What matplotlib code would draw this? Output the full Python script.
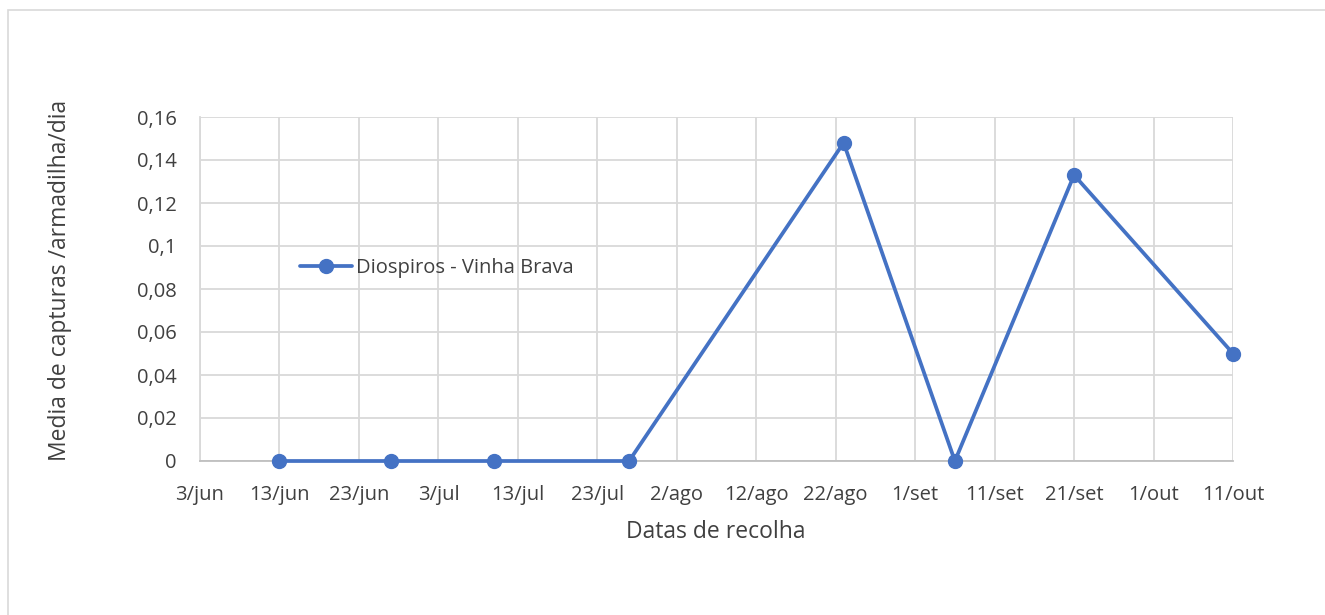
import matplotlib
matplotlib.use("Agg")
import matplotlib.pyplot as plt
from matplotlib.patches import Rectangle
import datetime as dt

plt.rcParams['font.family'] = ['Open Sans', 'DejaVu Sans']

# Data
dates = ["2020-06-13", "2020-06-27", "2020-07-10", "2020-07-27",
         "2020-08-23", "2020-09-06", "2020-09-21", "2020-10-11"]
values = [0, 0, 0, 0, 0.148, 0, 0.133, 0.05]
series_name = "Diospiros - Vinha Brava"

tick_dates = ["2020-06-03", "2020-06-13", "2020-06-23", "2020-07-03", "2020-07-13",
              "2020-07-23", "2020-08-02", "2020-08-12", "2020-08-22", "2020-09-01",
              "2020-09-11", "2020-09-21", "2020-10-01", "2020-10-11"]
tick_labels = ["3/jun", "13/jun", "23/jun", "3/jul", "13/jul", "23/jul", "2/ago",
               "12/ago", "22/ago", "1/set", "11/set", "21/set", "1/out", "11/out"]
y_ticks = [0, 0.02, 0.04, 0.06, 0.08, 0.10, 0.12, 0.14, 0.16]
y_labels = ["0", "0,02", "0,04", "0,06", "0,08", "0,1", "0,12", "0,14", "0,16"]

x = [dt.datetime.strptime(d, "%Y-%m-%d") for d in dates]
xt = [dt.datetime.strptime(d, "%Y-%m-%d") for d in tick_dates]

W, H = 1325, 615
fig = plt.figure(figsize=(W / 100, H / 100), dpi=100)
fig.patch.set_facecolor("white")

# outer chart border
fig.patches.append(Rectangle((8 / W, -0.5), 2, 1.5 - 10 / H, transform=fig.transFigure,
                             fill=False, edgecolor="#D9D9D9", linewidth=1.2))

ax = fig.add_axes([200 / W, 1 - 461 / H, (1233 - 200) / W, (461 - 117) / H])
ax.plot(x, values, color="#4472C4", linewidth=2.7, marker="o", markersize=10,
        label=series_name, solid_capstyle="round", clip_on=False, zorder=3)

ax.set_xlim(xt[0], xt[-1])
ax.set_ylim(0, 0.16)
ax.set_xticks(xt)
ax.set_xticklabels(tick_labels)
ax.set_yticks(y_ticks)
ax.set_yticklabels(y_labels)
ax.tick_params(axis="both", length=0, labelsize=14.5, colors="#404040", labelcolor="#404040")
ax.tick_params(axis="x", pad=17)
ax.tick_params(axis="y", pad=17)

ax.grid(True, color="#D9D9D9", linewidth=1.3)
ax.set_axisbelow(True)
for s in ["top", "right"]:
    ax.spines[s].set_visible(False)
ax.spines["left"].set_color("#D9D9D9")
ax.spines["left"].set_linewidth(1.3)
ax.spines["bottom"].set_color("#BFBFBF")
ax.spines["bottom"].set_linewidth(1.3)

fig.text(716 / W, 1 - 532 / H, "Datas de recolha", fontsize=16.5, color="#404040",
         ha="center", va="center")
fig.text(60 / W, 1 - 280 / H, "Media de capturas /armadilha/dia", rotation=90,
         fontsize=16.5, color="#404040", ha="center", va="center")

leg = ax.legend(loc="center left", bbox_to_anchor=(0.087, 0.56), frameon=False,
                fontsize=14.5, handlelength=2.6, handletextpad=0.2, borderpad=0)
for t in leg.get_texts():
    t.set_color("#404040")

fig.savefig("out.png", dpi=100, facecolor="white")
